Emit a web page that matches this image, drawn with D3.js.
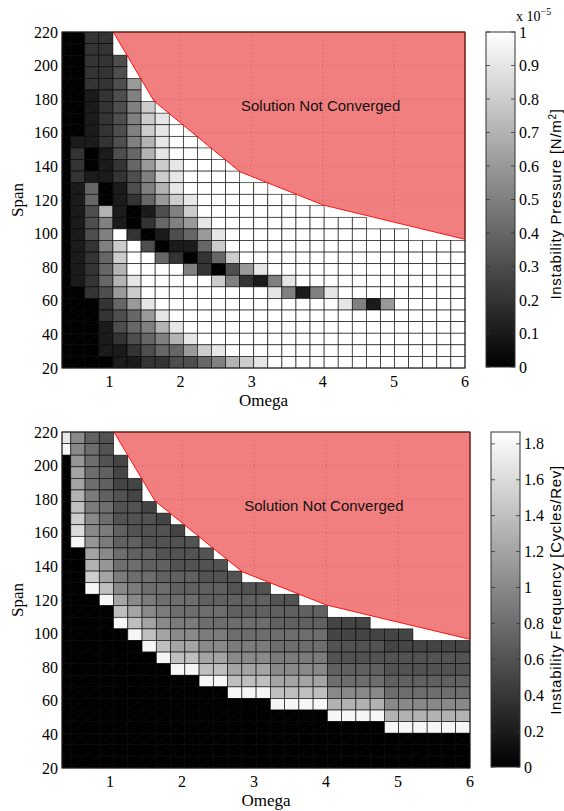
<!DOCTYPE html>
<html><head><meta charset="utf-8">
<script src="https://cdn.jsdelivr.net/npm/d3@7/dist/d3.min.js"></script>
<style>body{margin:0;background:#fff}</style>
</head><body>
<svg id="chart" width="564" height="811" xmlns="http://www.w3.org/2000/svg"></svg>
<script>
// ---------------- DATA ----------------
// column edges (Omega) and row edges (Span) of the pcolor grid
const omegaEdges = [0.333,0.455,0.653,0.851,1.049,1.247,1.445,1.643,1.841,2.039,2.237,2.435,2.633,2.831,3.029,3.227,3.425,3.623,3.821,4.019,4.217,4.415,4.613,4.811,5.009,5.207,5.405,5.603,5.801,6.0];
const spanEdges = [20,26.9,33.8,40.7,47.6,54.5,61.4,68.3,75.2,82.1,89.0,95.9,102.8,109.7,116.6,123.4,130.3,137.2,144.1,151.0,157.9,164.8,171.7,178.6,185.5,192.4,199.3,206.2,213.1,220];
const xTicks = [1,2,3,4,5,6];
const yTicks = [20,40,60,80,100,120,140,160,180,200,220];
const pressureTicks = [0,0.1,0.2,0.3,0.4,0.5,0.6,0.7,0.8,0.9,1];
const pressureTickLabels = ["0","0.1","0.2","0.3","0.4","0.5","0.6","0.7","0.8","0.9","1"];
const frequencyTicks = [0,0.2,0.4,0.6,0.8,1,1.2,1.4,1.6,1.8];
const frequencyTickLabels = ["0","0.2","0.4","0.6","0.8","1","1.2","1.4","1.6","1.8"];
const pressureMax = 1;      // x 10^-5 N/m^2
const frequencyMax = 1.866; // Cycles/Rev

// cell values, one string per Span row (top row = highest span), one char per Omega column.
// char = value*10 in base 36 ('a' = 1.0, 'i' = 1.8), '.' = not converged (no cell)
const pressureRows = [
"0022.........................",
"0022.........................",
"00223........................",
"00223........................",
"002236.......................",
"001235.......................",
"0012358......................",
"00123589.....................",
"00123589a....................",
"01123579aa...................",
"02013479aaa..................",
"020124689aaa.................",
"021123589aaaa................",
"014013579aaaaaa..............",
"0140124689aaaaaaa............",
"0137101358aaaaaaaaa..........",
"01351024569aaaaaaaaaaa.......",
"0135a2013469aaaaaaaaaaaaa....",
"01258a301148aaaaaaaaaaaaaaaaa",
"01248aa420248aaaaaaaaaaaaaaaa",
"01247aaaa520369aaaaaaaaaaaaaa",
"012479aaaaa852159aaaaaaaaaaaa",
"002368aaaaaaaaa95159aaaaaaaaa",
"0002469aaaaaaaaaaaaa9516aaaaa",
"00023469aaaaaaaaaaaaaaaaaaaaa",
"000134579aaaaaaaaaaaaaaaaaaaa",
"0001234579aaaaaaaaaaaaaaaaaaa",
"000112344689aaaaaaaaaaaaaaaaa",
"000011223345789aaaaaaaaaaaaaa"
];
const frequencyRows = [
"ha76.........................",
"ia86.........................",
"0b865........................",
"0c875........................",
"0c8755.......................",
"0d9765.......................",
"0e98665......................",
"0fa86665.....................",
"0ga976665....................",
"0ib9776666...................",
"00ca8776666..................",
"00db88776666.................",
"00fc988777666................",
"00iea9887777666..............",
"000ica98887777766............",
"0000eca988887777777..........",
"0000ieca99888887777555.......",
"00000iecaa998888888555555....",
"000000ieccaa99988886666555555",
"0000000ieeccaaa99996666666666",
"00000000iieecccaaaa7777666666",
"0000000000iieeecccc8888777777",
"000000000000iiieeeeaaaa888888",
"000000000000000iiiiddddaaaaaa",
"0000000000000000000iiiidddddd",
"00000000000000000000000iiiiii",
"00000000000000000000000000000",
"00000000000000000000000000000",
"00000000000000000000000000000"
];
// boundary of the "Solution Not Converged" region
const boundaryOmega = [1.054, 1.627, 2.836, 4.008, 6.0, 6.0];
const boundarySpan  = [220, 178.9, 136.8, 117.0, 96.6, 220];
const noteText = "Solution Not Converged";
const noteOmega = 3.97, noteSpan = 176;

// ---------------- DRAW ----------------
const svg = d3.select("#chart");
svg.append("rect").attr("width",564).attr("height",811).attr("fill","#fff");
const serif = "'Liberation Serif','Times New Roman',serif";
const sans = "'Liberation Sans',Arial,Helvetica,sans-serif";

function decode(rows){
  return rows.map(s => s.split("").map(ch => ch === "." ? null : parseInt(ch,36)/10));
}

const panels = [
  {rows: pressureRows, max: pressureMax, left:62, right:465, top:32, bottom:368,
   cbLeft:486, cbRight:515, ticks: pressureTicks, tickLabels: pressureTickLabels, titleY: 204,
   cbTitle: "Instability Pressure [N/m", cbSup: "2", cbTitleEnd: "]", exponent: true, id:"p"},
  {rows: frequencyRows, max: frequencyMax, left:62, right:470, top:432, bottom:768,
   cbLeft:491, cbRight:520, ticks: frequencyTicks, tickLabels: frequencyTickLabels, titleY: 590,
   cbTitle: "Instability Frequency [Cycles/Rev]", cbSup: null, cbTitleEnd: "", exponent: false, id:"f"}
];

panels.forEach(P => {
  const x = d3.scaleLinear().domain([omegaEdges[0], 6]).range([P.left, P.right]);
  const y = d3.scaleLinear().domain([20, 220]).range([P.bottom, P.top]);
  const grey = v => { const t = Math.max(0, Math.min(1, v / P.max)); const g = Math.round(t*255); return `rgb(${g},${g},${g})`; };
  const g = svg.append("g");
  const vals = decode(P.rows);
  const nRows = vals.length;

  // cells
  const cells = [];
  vals.forEach((row, i) => {
    const r = nRows - 1 - i;
    row.forEach((v, c) => { if (v !== null) cells.push({r, c, v}); });
  });
  const cg = g.append("g");
  cg.selectAll("rect").data(cells).join("rect")
    .attr("x", d => x(omegaEdges[d.c]))
    .attr("y", d => y(spanEdges[d.r+1]))
    .attr("width", d => x(omegaEdges[d.c+1]) - x(omegaEdges[d.c]))
    .attr("height", d => y(spanEdges[d.r]) - y(spanEdges[d.r+1]))
    .attr("fill", d => grey(d.v))
    .attr("stroke", "#000").attr("stroke-opacity", 0.85).attr("stroke-width", 0.7);
  cg.selectAll("line").data(cells).join("line")
    .attr("x1", d => x(omegaEdges[d.c])).attr("y1", d => y(spanEdges[d.r]))
    .attr("x2", d => x(omegaEdges[d.c+1])).attr("y2", d => y(spanEdges[d.r+1]))
    .attr("stroke", "#fff").attr("stroke-opacity", 0.07).attr("stroke-width", 0.6);

  // not-converged region
  const pts = boundaryOmega.map((o,i) => [x(o), y(boundarySpan[i])]);
  const clipId = "clip" + P.id;
  g.append("clipPath").attr("id", clipId).append("polygon").attr("points", pts.map(p => p.join(",")).join(" "));
  g.append("polygon").attr("points", pts.map(p => p.join(",")).join(" "))
    .attr("fill", "#e60000").attr("fill-opacity", 0.5);
  const grid = g.append("g").attr("clip-path", `url(#${clipId})`);
  grid.selectAll("line.v").data(xTicks).join("line").attr("class","v")
    .attr("x1", d => x(d)).attr("x2", d => x(d)).attr("y1", P.top).attr("y2", P.bottom)
    .attr("stroke", "#a02020").attr("stroke-opacity", 0.45).attr("stroke-width", 0.8).attr("stroke-dasharray", "1,3");
  grid.selectAll("line.h").data(yTicks).join("line").attr("class","h")
    .attr("y1", d => y(d)).attr("y2", d => y(d)).attr("x1", P.left).attr("x2", P.right)
    .attr("stroke", "#a02020").attr("stroke-opacity", 0.45).attr("stroke-width", 0.8).attr("stroke-dasharray", "1,3");
  g.append("polygon").attr("points", pts.map(p => p.join(",")).join(" "))
    .attr("fill", "none").attr("stroke", "#ff1010").attr("stroke-width", 1);
  g.append("text").attr("x", x(noteOmega)).attr("y", y(noteSpan)).attr("text-anchor","middle")
    .attr("dominant-baseline","central").attr("font-family", sans).attr("font-size", 15)
    .attr("fill","#111").text(noteText);

  // axes box
  g.append("rect").attr("x", P.left).attr("y", P.top).attr("width", P.right-P.left).attr("height", P.bottom-P.top)
    .attr("fill","none").attr("stroke","#222").attr("stroke-width",1);

  // tick labels
  g.selectAll("text.yt").data(yTicks).join("text").attr("class","yt")
    .attr("x", P.left - 4).attr("y", d => y(d)).attr("text-anchor","end").attr("dominant-baseline","central")
    .attr("font-family", serif).attr("font-size", 16).attr("fill","#000").text(d => d);
  g.selectAll("text.xt").data(xTicks).join("text").attr("class","xt")
    .attr("x", d => x(d)).attr("y", P.bottom + 19).attr("text-anchor","middle")
    .attr("font-family", serif).attr("font-size", 16).attr("fill","#000").text(d => d);
  g.append("text").attr("x", (P.left+P.right)/2).attr("y", P.bottom + 38).attr("text-anchor","middle")
    .attr("font-family", serif).attr("font-size", 17).attr("fill","#000").text("Omega");
  g.append("text").attr("transform", `translate(23,${(P.top+P.bottom)/2}) rotate(-90)`).attr("text-anchor","middle")
    .attr("font-family", serif).attr("font-size", 17).attr("fill","#000").text("Span");

  // colorbar
  const cy = d3.scaleLinear().domain([0, P.max]).range([P.bottom - 1, P.top]);
  const gradId = "grad" + P.id;
  const grad = svg.append("defs").append("linearGradient").attr("id", gradId)
    .attr("x1",0).attr("y1",1).attr("x2",0).attr("y2",0);
  grad.append("stop").attr("offset","0%").attr("stop-color","#000");
  grad.append("stop").attr("offset","100%").attr("stop-color","#fff");
  g.append("rect").attr("x", P.cbLeft).attr("y", P.top).attr("width", P.cbRight-P.cbLeft).attr("height", P.bottom-1-P.top)
    .attr("fill", `url(#${gradId})`).attr("stroke","#333").attr("stroke-width",1);
  g.selectAll("line.cbl").data(P.ticks).join("line").attr("class","cbl")
    .attr("x1", P.cbLeft).attr("x2", P.cbLeft+4).attr("y1", d => cy(d)).attr("y2", d => cy(d))
    .attr("stroke","#333").attr("stroke-width",0.8);
  g.selectAll("line.cbr").data(P.ticks).join("line").attr("class","cbr")
    .attr("x1", P.cbRight-4).attr("x2", P.cbRight).attr("y1", d => cy(d)).attr("y2", d => cy(d))
    .attr("stroke","#333").attr("stroke-width",0.8);
  g.selectAll("text.cbt").data(P.ticks).join("text").attr("class","cbt")
    .attr("x", P.cbRight + 4).attr("y", d => cy(d)).attr("dominant-baseline","central")
    .attr("font-family", serif).attr("font-size", 16).attr("fill","#000").text((d,i) => P.tickLabels[i]);
  if (P.exponent) {
    const t = g.append("text").attr("x", P.cbRight + 1).attr("y", P.top - 11)
      .attr("font-family", serif).attr("font-size", 14).attr("fill","#000");
    t.append("tspan").text("x 10");
    t.append("tspan").attr("dy", -6).attr("font-size", 10).text("\u22125");
  }
  const tt = g.append("text").attr("transform", `translate(561,${P.titleY}) rotate(-90)`)
    .attr("text-anchor","middle").attr("font-family", sans).attr("font-size", 15)
    .attr("letter-spacing", 0.7).attr("fill","#000");
  tt.append("tspan").text(P.cbTitle);
  if (P.cbSup) {
    tt.append("tspan").attr("dy", -5).attr("font-size", 10).text(P.cbSup);
    tt.append("tspan").attr("dy", 5).text(P.cbTitleEnd);
  }
});
</script>
</body></html>
